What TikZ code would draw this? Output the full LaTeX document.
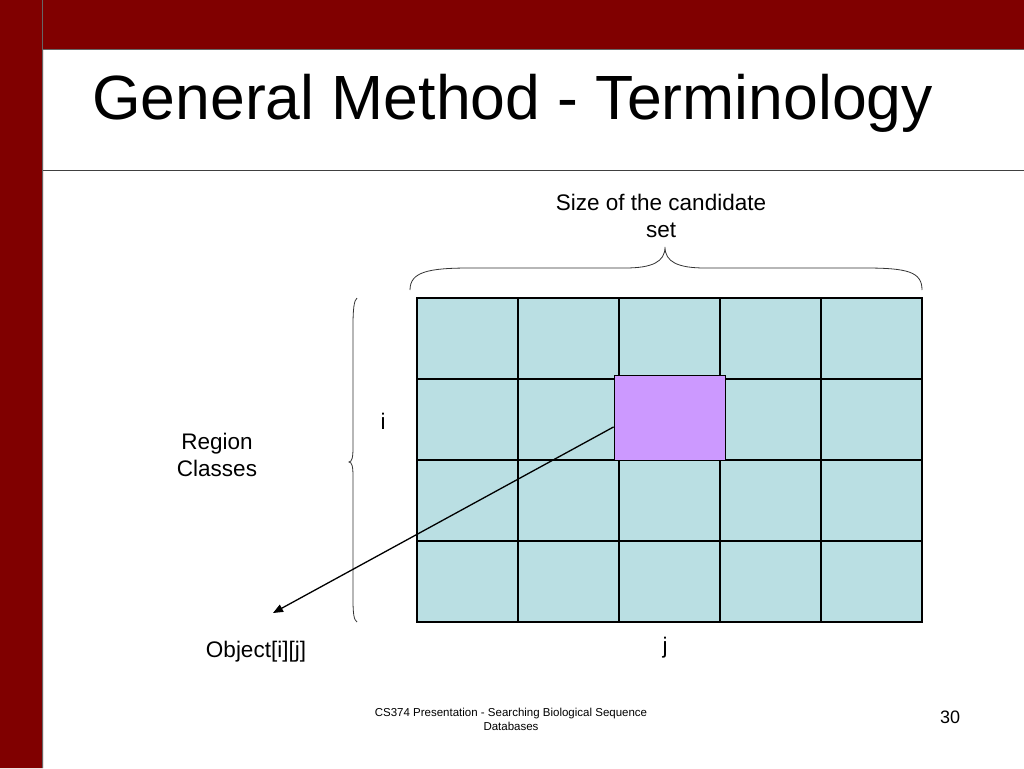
\documentclass[tikz,border=0pt]{standalone}
\usepackage{fontspec}
\setmainfont{Liberation Sans}
\usetikzlibrary{calc,arrows.meta}
\definecolor{slidered}{HTML}{800000}
\definecolor{cellblue}{HTML}{BADFE3}
\definecolor{objpurple}{HTML}{CC99FF}
\tikzset{
  lbl/.style={align=center,font=\fontsize{22.5}{27.5}\selectfont},
  brc/.style={draw=black!80,line width=0.8pt}
}
\begin{document}
\begin{tikzpicture}[x=1pt,y=-1pt,>={Triangle[length=10pt,width=8pt]}]
			\useasboundingbox (0,0) rectangle (1024,768);
			\fill[slidered] (0,0) rectangle (43,768) (43,0) rectangle (1024,50);
			\draw[black!60,line width=1pt] (42.5,0)--(42.5,768) (43,50)--(1024,50);
			\draw[black!75,line width=1pt] (43,170.5)--(1024,170.5);
			\node[anchor=base west,inner sep=0pt,font=\fontsize{62.5}{70}\selectfont] (title) at (92,119) {General Method - Terminology};
			% grid of cells
			\fill[cellblue] (417,298) rectangle (922,622);
			\foreach \x in {518,619,720,821} \draw[line width=1.2pt] (\x,298)--(\x,622);
			\foreach \y in {379,460,541} \draw[line width=1.2pt] (417,\y)--(922,\y);
			\draw[line width=2.5pt] (417,298) rectangle (922,622);
			\node[draw,line width=0.8pt,fill=objpurple,minimum width=111pt,minimum height=85pt,inner sep=0pt] (obj) at (669.5,417.5) {};
			% braces
			\draw[brc] (410,290) .. controls (410,272) and (428,268) .. (470,268) -- (625,268) .. controls (652,268) and (665,262) .. (665,247) .. controls (665,262) and (678,268) .. (705,268) -- (865,268) .. controls (908,268) and (922,272) .. (922,290);
			\draw[brc] (357,298) .. controls (354,300) and (353,310) .. (353,325) -- (353,448) .. controls (353,457) and (352,462) .. (349,462) .. controls (352,462) and (353,467) .. (353,476) -- (353,600) .. controls (353,614) and (354,620) .. (357,622);
			\node[lbl] (size) at (661,216) {Size of the candidate\\set};
			\node[lbl] (region) at (217,455) {Region\\Classes};
			\node[lbl] (i) at (383,421) {i};
			\node[lbl] (j) at (665,648) {j};
			\node[lbl] (object) at (256,652) {Object[i][j]};
			\coordinate (tip) at (273,613);
			\draw[->,line width=1.3pt] ($(obj.north west)!0.61!(obj.south west)$) -- (tip);
			% footer
			\node[align=center,font=\fontsize{11.5}{14}\selectfont] (footer) at (511,719) {CS374 Presentation - Searching Biological Sequence\\Databases};
			\node[font=\fontsize{18}{20}\selectfont] (page) at (950,717) {30};
\end{tikzpicture}
\end{document}
